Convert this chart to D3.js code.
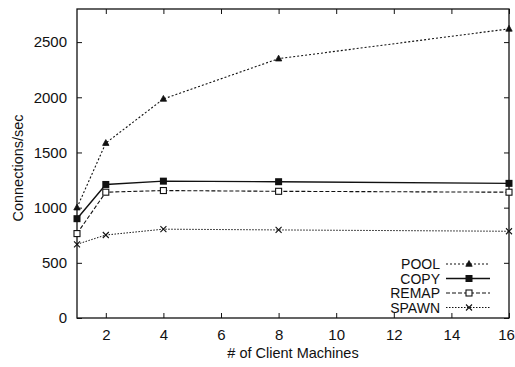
<!DOCTYPE html>
<html><head><meta charset="utf-8">
<script src="https://cdn.jsdelivr.net/npm/d3@7"></script>
<style>body{margin:0;background:#fff}svg text{font-family:"Liberation Sans",Arial,sans-serif;fill:#111}</style>
</head><body><svg id="c" width="515" height="367"></svg>
<script>
const clients = [1, 2, 4, 8, 16];
const pool  = [1000, 1585, 1985, 2350, 2620];
const copy  = [900, 1210, 1240, 1235, 1220];
const remap = [765, 1140, 1155, 1148, 1140];
const spawn = [668, 752, 805, 798, 786];
const xTicks = [2, 4, 6, 8, 10, 12, 14, 16];
const yTicks = [0, 500, 1000, 1500, 2000, 2500];
const seriesNames = ["POOL", "COPY", "REMAP", "SPAWN"];

const svg = d3.select("#c");
const L = 77, R = 509, T = 9, B = 318;
const x = d3.scaleLinear().domain([1, 16]).range([L, R]);
const y = d3.scaleLinear().domain([0, 2800]).range([B, T]);

const ink = "#111";
svg.append("rect").attr("x", L).attr("y", T).attr("width", R - L).attr("height", B - T)
  .attr("fill", "none").attr("stroke", ink).attr("stroke-width", 1.3);

const ax = svg.append("g").attr("transform", `translate(0,${B})`)
  .call(d3.axisBottom(x).tickValues(xTicks).tickSize(-5).tickPadding(11).tickFormat(d3.format("d")));
const axT = svg.append("g").attr("transform", `translate(0,${T})`)
  .call(d3.axisTop(x).tickValues(xTicks).tickSize(-5).tickFormat(""));
const ay = svg.append("g").attr("transform", `translate(${L},0)`)
  .call(d3.axisLeft(y).tickValues(yTicks).tickSize(-5).tickPadding(10).tickFormat(d3.format("d")));
const ayR = svg.append("g").attr("transform", `translate(${R},0)`)
  .call(d3.axisRight(y).tickValues(yTicks).tickSize(-5).tickFormat(""));
[ax, axT, ay, ayR].forEach(g => {
  g.select(".domain").remove();
  g.selectAll("line").attr("stroke", ink);
  g.selectAll("text").attr("font-size", 15).style("font-family", "'Liberation Sans',Arial,sans-serif").attr("fill", ink);
});
ax.selectAll(".tick").filter(d => d === 16).select("text").attr("dx", -3);

svg.append("text").attr("x", (L + R) / 2).attr("y", 358).attr("text-anchor", "middle")
  .attr("font-size", 14.5).text("# of Client Machines");
svg.append("text").attr("transform", `translate(23,168) rotate(-90)`)
  .attr("text-anchor", "middle").attr("font-size", 14.5).text("Connections/sec");

const styles = [
  {vals: pool,  dash: "2,2", w: 1.1, marker: "tri"},
  {vals: copy,  dash: null,  w: 1.4, marker: "fsq"},
  {vals: remap, dash: "4,2", w: 1.1, marker: "osq"},
  {vals: spawn, dash: "1.5,1.5", w: 1, marker: "x"}
];
const line = d3.line().x((d, i) => x(clients[i])).y(d => y(d));

function drawMarker(g, m, cx, cy) {
  if (m === "tri") {
    g.append("path").attr("d", `M${cx},${cy - 3.5}L${cx + 3.2},${cy + 2.3}L${cx - 3.2},${cy + 2.3}Z`)
      .attr("fill", ink).attr("stroke", ink).attr("stroke-width", 0.8);
  } else if (m === "fsq") {
    g.append("rect").attr("x", cx - 3.5).attr("y", cy - 3.5).attr("width", 7).attr("height", 7).attr("fill", ink);
  } else if (m === "osq") {
    g.append("rect").attr("x", cx - 3).attr("y", cy - 3).attr("width", 6).attr("height", 6)
      .attr("fill", "#fff").attr("stroke", ink).attr("stroke-width", 1.1);
  } else {
    g.append("path").attr("d", `M${cx - 3},${cy - 3}L${cx + 3},${cy + 3}M${cx - 3},${cy + 3}L${cx + 3},${cy - 3}`)
      .attr("stroke", ink).attr("stroke-width", 1.1);
  }
}

styles.forEach((s, k) => {
  const g = svg.append("g");
  g.append("path").attr("d", line(s.vals)).attr("fill", "none").attr("stroke", ink)
    .attr("stroke-width", s.w).attr("stroke-dasharray", s.dash);
  s.vals.forEach((v, i) => drawMarker(g, s.marker, x(clients[i]), y(v)));
  const ly = 264 + k * 14.5;
  g.append("text").attr("x", 440).attr("y", ly + 5).attr("text-anchor", "end").attr("font-size", 14).text(seriesNames[k]);
  g.append("line").attr("x1", 446).attr("x2", 490).attr("y1", ly).attr("y2", ly)
    .attr("stroke", ink).attr("stroke-width", s.w).attr("stroke-dasharray", s.dash);
  drawMarker(g, s.marker, 469, ly);
});
</script></body></html>
